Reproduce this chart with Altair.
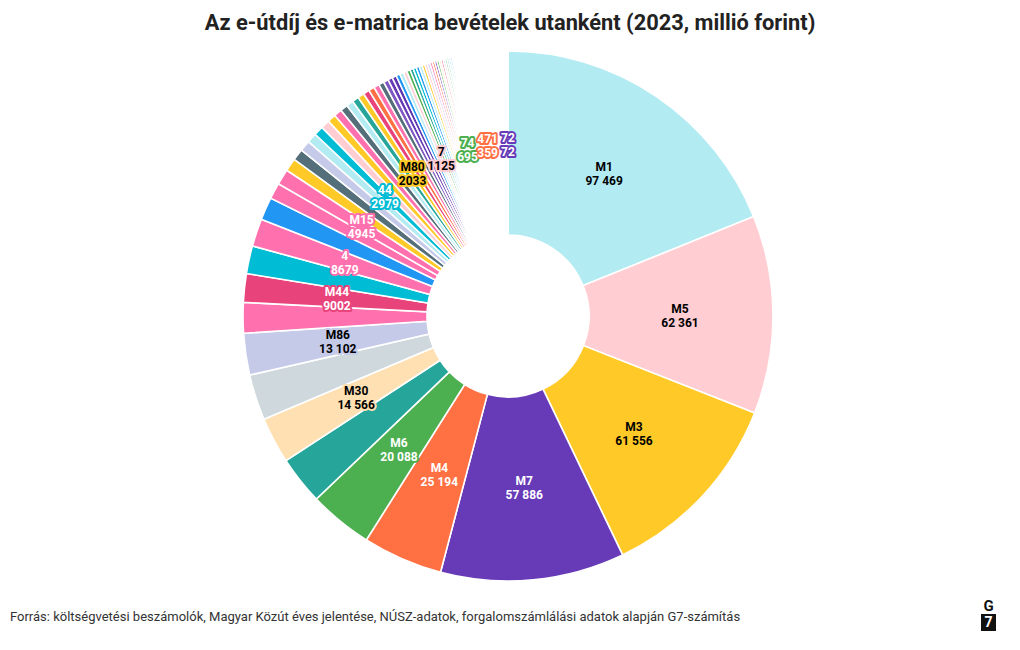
import math
import altair as alt
import pandas as pd

TITLE = "Az e-útdíj és e-matrica bevételek utanként (2023, millió forint)"
SOURCE = ("Forrás: költségvetési beszámolók, Magyar Közút éves jelentése, NÚSZ-adatok, "
          "forgalomszámlálási adatok alapján G7-számítás")

# --- data (millió forint), sorted descending, clockwise from 12 o'clock ---
head_names = ["M1", "M5", "M3", "M7", "M4", "M6", "", "M30", "", "M86",
              "", "M44", "", "4", "", "", "M15", "", "", "",
              "", "44", "", "", "", "", "", "", "M80", "",
              "", "", "", "", "", "", "", "", "7"]
head_values = [97469, 62361, 61556, 57886, 25194, 20088, 15200, 14566, 14400, 13102,
               9600, 9002, 8750, 8679, 7200, 5050, 4945, 4100, 3650, 3400,
               3100, 2979, 2800, 2650, 2500, 2350, 2200, 2100, 2033, 1950,
               1850, 1750, 1650, 1550, 1450, 1350, 1250, 1190, 1125]
tail_a = [1090, 1052, 1013, 968, 934, 889, 851, 818, 779, 748, 716]
tail_b = [668, 641, 622, 598, 583, 561, 547, 528, 512, 497, 486, 471, 455, 442,
          430, 418, 407, 396, 384, 371, 365]
tail_c = [352, 348, 344, 337, 331, 325, 321, 318, 312, 306, 302, 297, 293, 288,
          282, 276, 271, 265, 261, 258, 252, 247, 241, 236, 232, 228, 223, 219,
          213, 207, 203, 198, 193, 189, 182, 176, 172, 168, 161, 155, 143, 131,
          118, 104, 93, 85]

values = head_values + tail_a + [695] + tail_b + [359] + tail_c + [72]
names = (head_names + [""] * len(tail_a) + ["74"] + [""] * len(tail_b) + ["471"]
         + [""] * len(tail_c) + ["72"])

# --- colours (style) ---
head_colors = ["#b2ebf2", "#ffcdd2", "#ffca28", "#673ab7", "#ff7043", "#4caf50", "#26a69a",
               "#ffe0b2", "#cfd8dc", "#c5cae9", "#ff70ae", "#e8437b", "#00bcd4", "#ff70ae",
               "#2196f3", "#ff70ae", "#ff70ae", "#ffca28", "#546e7a", "#c5cae9", "#b2ebf2",
               "#00bcd4", "#ffcdd2", "#ffca28", "#ff70ae", "#546e7a", "#b2ebf2", "#26a69a",
               "#ffca28", "#e8437b", "#ff7043", "#ff70ae", "#546e7a", "#7e57c2", "#673ab7",
               "#5e35b1", "#2196f3", "#b2ebf2", "#ffcdd2"]
cycle = ["#4caf50", "#26a69a", "#00bcd4", "#2196f3", "#b2ebf2", "#ffca28", "#ffcdd2",
         "#c5cae9", "#ff70ae", "#ff7043", "#673ab7", "#546e7a", "#ffe0b2", "#e8437b", "#cfd8dc"]
override = {"74": "#4caf50", "471": "#ff7043", "72": "#673ab7"}
colors = []
for i, n in enumerate(names):
    if n in override:
        colors.append(override[n])
    elif i < len(head_colors):
        colors.append(head_colors[i])
    else:
        colors.append(cycle[(i - len(head_colors)) % len(cycle)])


def lum(hexc):
    r, g, b = (int(hexc[k:k + 2], 16) / 255 for k in (1, 3, 5))
    f = lambda c: c / 12.92 if c <= 0.03928 else ((c + 0.055) / 1.055) ** 2.4
    return 0.2126 * f(r) + 0.7152 * f(g) + 0.0722 * f(b)


def fmt(v):
    s = str(v)
    if v >= 10000:
        s = f"{v:,}".replace(",", " ")
    return s


total = sum(values)
rows = []
cum = 0
for i, (n, v, c) in enumerate(zip(names, values, colors)):
    rows.append({"idx": i, "name": n if n else f"_{i}", "value": v, "start": cum,
                 "end": cum + v, "mid": cum + v / 2, "color": c,
                 "tcolor": "#000000" if lum(c) > 0.5 else "#ffffff",
                 "label": f"{n}\n{fmt(v)}" if n else ""})
    cum += v
df = pd.DataFrame(rows)

# simple label de-overlap along the ring
lab = df[df["label"] != ""].copy().reset_index(drop=True)
sep1 = total * 10 / 360
sep2 = total * 6.8 / 360
pos = list(lab["mid"])
for k in range(1, len(pos)):
    if k >= 8:
        pos[k] = max(pos[k], pos[k - 1] + sep1)
pos[-1] = min(pos[-1], total)
for k in range(len(pos) - 2, 0, -1):
    pos[k] = min(pos[k], pos[k + 1] - sep2)
lab["lab"] = pos

CX, CY = 508, 316
FONT = "Roboto"
theta_scale = alt.Scale(domain=[0, total], range=[0, 2 * math.pi])

arcs = alt.Chart(df).mark_arc(innerRadius=81, outerRadius=265, stroke="white",
                              strokeWidth=1.6).encode(
    theta=alt.Theta("start:Q", scale=theta_scale, stack=None),
    theta2="end:Q",
    color=alt.Color("color:N", scale=None),
    x=alt.value(CX), y=alt.value(CY),
)

text_props = dict(radius=172, fontSize=12, fontWeight="bold", font=FONT, lineBreak="\n",
                  lineHeight=14, align="center", baseline="middle", dy=-6)
halo = alt.Chart(lab).mark_text(strokeWidth=4, strokeJoin="round", **text_props).encode(
    theta=alt.Theta("lab:Q", scale=theta_scale, stack=None),
    text="label:N",
    stroke=alt.Color("color:N", scale=None),
    fill=alt.Fill("color:N", scale=None),
    x=alt.value(CX), y=alt.value(CY),
)
texts = alt.Chart(lab).mark_text(**text_props).encode(
    theta=alt.Theta("lab:Q", scale=theta_scale, stack=None),
    text="label:N",
    fill=alt.Fill("tcolor:N", scale=None),
    x=alt.value(CX), y=alt.value(CY),
)

title = alt.Chart(pd.DataFrame({"t": [TITLE]})).mark_text(
    fontSize=21.8, fontWeight="bold", font=FONT, color="#222222", align="center",
    baseline="middle").encode(text="t:N", x=alt.value(510), y=alt.value(23))
source = alt.Chart(pd.DataFrame({"t": [SOURCE]})).mark_text(
    fontSize=13, font=FONT, color="#333333", align="left",
    baseline="middle").encode(text="t:N", x=alt.value(10), y=alt.value(617))
logo_g = alt.Chart(pd.DataFrame({"t": ["G"]})).mark_text(
    fontSize=15, fontWeight="bold", font=FONT, color="#111111", align="center",
    baseline="middle").encode(text="t:N", x=alt.value(988.5), y=alt.value(606))
logo_box = alt.Chart(pd.DataFrame({"t": ["7"]})).mark_rect(color="#111111").encode(
    x=alt.value(981), x2=alt.value(996), y=alt.value(614), y2=alt.value(631))
logo_7 = alt.Chart(pd.DataFrame({"t": ["7"]})).mark_text(
    fontSize=14, fontWeight="bold", font=FONT, color="#ffffff", align="center",
    baseline="middle").encode(text="t:N", x=alt.value(988.5), y=alt.value(623))

chart = alt.layer(arcs, halo, texts, title, source, logo_g, logo_box, logo_7).properties(
    width=1020, height=650, autosize=alt.AutoSizeParams(type="none"), padding=0,
    background="white"
).configure_view(strokeWidth=0)

chart.save("out.html", embed_options={"renderer": "svg", "actions": False})
